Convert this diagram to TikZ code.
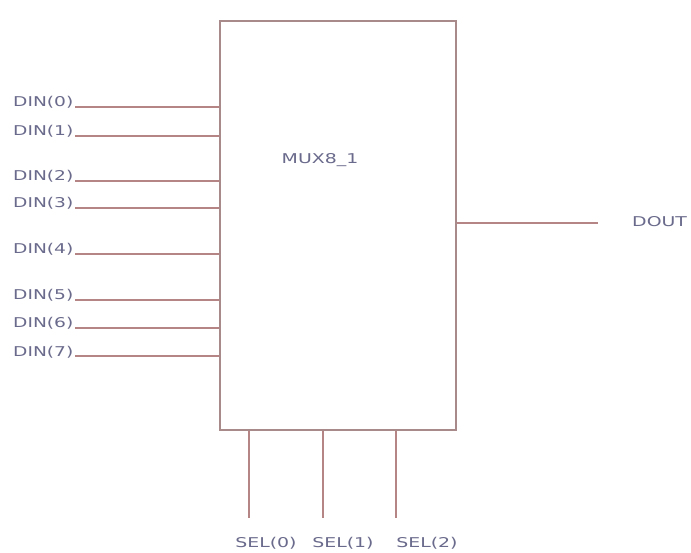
\documentclass[tikz,border=0pt]{standalone}
\usepackage{fontspec}
\setmainfont{DejaVu Sans}
\definecolor{wire}{HTML}{B58585}
\definecolor{boxc}{HTML}{A88A8A}
\definecolor{lbl}{HTML}{6A6A8C}
\begin{document}
\begin{tikzpicture}[x=1pt,y=-1pt,
  wirel/.style={draw=wire,line width=1.5pt},
  pinlbl/.style={text=lbl,font=\fontsize{13.5}{13.5}\selectfont,inner sep=0pt},
  muxbox/.style={draw=boxc,line width=1.6pt,rectangle,minimum width=236pt,minimum height=409pt,inner sep=0pt}]
\useasboundingbox (0,0) rectangle (691,553);
\fill[white] (0,0) rectangle (691,553);
\node[muxbox] (mux) at (338,225.5) {};
\node[pinlbl] (muxname) at (320,160) {\scalebox{1.4}[1]{MUX8\_1}};
% inputs
\foreach \i/\y in {0/107,1/136,2/181,3/208,4/254,5/300,6/328,7/356}{
  \coordinate (din\i) at (75,\y);
  \node[pinlbl,anchor=base west] (dinl\i) at (13,\y) {\scalebox{1.38}[1]{DIN(\i)}};
  \draw[wirel] (din\i) -- (mux.west |- din\i);
}
% output
\coordinate (dout) at (598,223);
\draw[wirel] (mux.east |- dout) -- (dout);
\node[pinlbl,anchor=west] (doutl) at (632,222) {\scalebox{1.4}[1]{DOUT}};
% selects
\foreach \i/\x/\lx in {0/249/266,1/323/343,2/396/427}{
  \coordinate (sel\i) at (\x,518);
  \draw[wirel] (mux.south -| sel\i) -- (sel\i);
  \node[pinlbl] (sell\i) at (\lx,543) {\scalebox{1.4}[1]{SEL(\i)}};
}
\end{tikzpicture}
\end{document}
